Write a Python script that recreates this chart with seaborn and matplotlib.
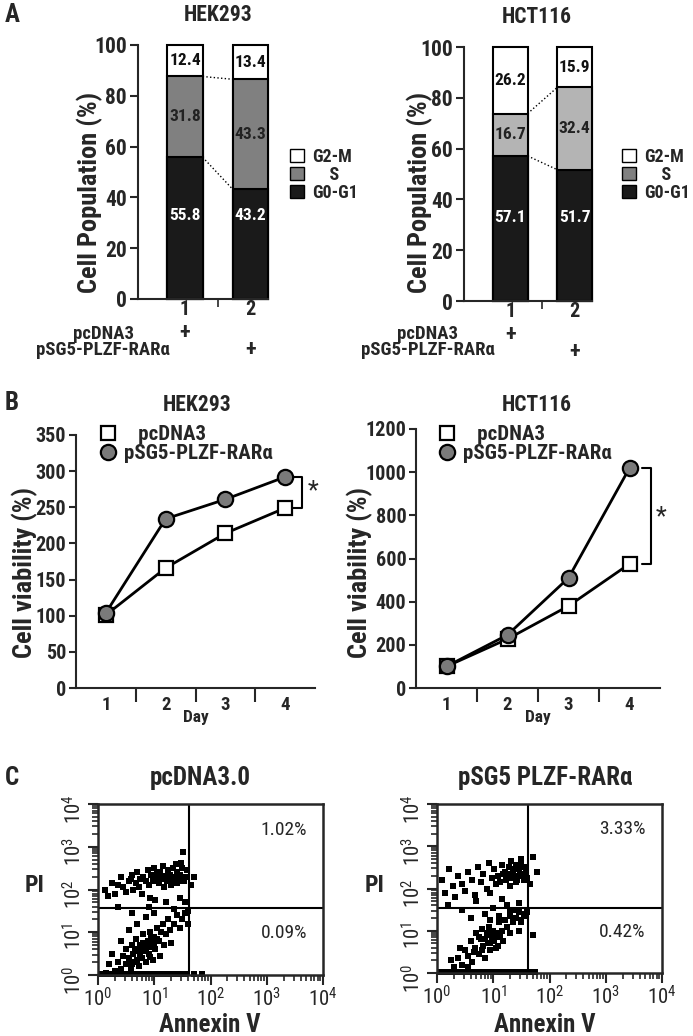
import numpy as np
import pandas as pd
import seaborn as sns
import matplotlib.pyplot as plt
from matplotlib.patches import Patch
from matplotlib.lines import Line2D
from matplotlib.ticker import LogLocator, NullFormatter

# ---- A: cell cycle distribution (%) ----
samples = ['1', '2']
hek_g0g1 = [55.8, 43.2]
hek_s = [31.8, 43.3]
hek_g2m = [12.4, 13.4]
hct_g0g1 = [57.1, 51.7]
hct_s = [16.7, 32.4]
hct_g2m = [26.2, 15.9]

# ---- B: cell viability (%) ----
days = [1, 2, 3, 4]
hek_pcdna3 = [101, 166, 214, 249]
hek_plzf = [104, 234, 261, 292]
hct_pcdna3 = [100, 227, 380, 575]
hct_plzf = [100, 246, 510, 1019]

# ---- C: flow cytometry events, log10(Annexin V) / log10(PI) ----
ctrl_up_x = [0.12, 0.18, 0.25, 0.30, 0.35, 0.40, 0.45, 0.50, 0.55, 0.60, 0.62, 0.68, 0.70, 0.75,
             0.78, 0.80, 0.85, 0.88, 0.90, 0.95, 0.98, 1.00, 1.05, 1.08, 1.10, 1.12, 1.15, 1.20,
             1.22, 1.25, 1.28, 1.30, 1.33, 1.35, 1.38, 1.40, 1.45, 1.50, 1.55, 1.58, 1.30, 1.42,
             0.92, 1.18, 1.02, 1.10, 1.25, 1.35, 1.48, 1.05, 0.72, 0.58, 1.52, 1.40, 1.15, 1.51,
             1.70, 1.65]
ctrl_up_y = [2.00, 1.85, 2.15, 1.90, 2.10, 2.30, 2.05, 1.95, 2.20, 2.35, 2.00, 2.15, 2.40, 2.25,
             1.90, 2.30, 2.20, 2.45, 2.10, 2.35, 2.20, 2.50, 2.30, 2.15, 2.40, 2.25, 2.55, 2.30,
             2.20, 2.45, 2.35, 2.10, 2.50, 2.30, 2.60, 2.40, 2.35, 2.50, 2.30, 2.45, 2.25, 2.20,
             1.80, 2.05, 1.75, 2.28, 2.38, 2.22, 2.62, 2.38, 2.05, 2.25, 2.20, 2.15, 2.32, 2.88,
             2.30, 2.10]
ctrl_mid_x = [0.60, 0.90, 1.20, 1.35, 1.45, 1.55, 1.60, 0.35]
ctrl_mid_y = [1.45, 1.60, 1.70, 1.55, 1.80, 1.70, 1.50, 1.60]
ctrl_low_x = [0.30, 0.35, 0.40, 0.45, 0.50, 0.50, 0.55, 0.58, 0.60, 0.62, 0.65, 0.68, 0.70, 0.72,
              0.75, 0.78, 0.80, 0.82, 0.85, 0.88, 0.90, 0.92, 0.95, 0.98, 1.00, 1.02, 1.05, 1.08,
              1.10, 1.12, 1.15, 1.18, 1.20, 1.25, 1.28, 1.30, 1.35, 1.40, 1.45, 1.50, 1.55, 0.25,
              0.40, 0.55, 0.70, 0.85, 1.00, 0.20, 0.15, 1.60, 0.75, 0.80, 0.90, 0.95, 0.85, 1.00,
              0.70, 0.65, 0.92, 1.05, 0.60, 0.78]
ctrl_low_y = [0.10, 0.30, 0.15, 0.45, 0.25, 0.60, 0.40, 0.15, 0.70, 0.50, 0.30, 0.85, 0.55, 0.20,
              0.70, 0.40, 0.95, 0.60, 0.30, 0.80, 0.50, 1.00, 0.70, 0.35, 0.90, 0.60, 1.10, 0.80,
              0.45, 1.00, 1.20, 0.70, 0.95, 1.30, 1.05, 0.75, 1.20, 1.40, 1.10, 1.30, 1.45, 0.50,
              0.80, 1.05, 1.20, 1.35, 1.45, 0.25, 0.05, 1.20, 0.50, 0.75, 0.65, 0.90, 0.55, 0.75,
              0.35, 0.60, 0.42, 0.85, 0.25, 0.62]
ctrl_floor_x = [0.05, 0.12, 0.20, 0.28, 0.35, 0.42, 0.50, 0.58, 0.65, 0.72, 0.80, 0.88, 0.95,
                1.02, 1.10, 1.18, 1.25, 1.32, 1.40, 1.48, 1.55, 1.70, 1.85]

plzf_up_x = [0.08, 0.15, 0.22, 0.28, 0.32, 0.38, 0.45, 0.50, 0.55, 0.62, 0.68, 0.72, 0.78, 0.82,
             0.88, 0.92, 0.98, 1.02, 1.08, 1.12, 1.15, 1.20, 1.22, 1.25, 1.28, 1.30, 1.32, 1.35,
             1.38, 1.40, 1.42, 1.45, 1.48, 1.50, 1.52, 1.55, 1.58, 1.60, 1.25, 1.35, 1.45, 1.18,
             1.05, 0.95, 1.40, 1.50, 1.30, 1.55, 1.70, 1.78, 1.65]
plzf_up_y = [2.20, 1.90, 2.45, 2.05, 1.80, 2.30, 2.10, 1.95, 2.40, 2.20, 1.85, 2.50, 2.15, 2.35,
             2.00, 2.60, 2.25, 2.45, 2.30, 2.15, 2.55, 2.40, 2.20, 2.35, 2.50, 2.25, 2.65, 2.40,
             2.30, 2.55, 2.20, 2.45, 2.35, 2.60, 2.30, 2.50, 2.40, 2.25, 2.30, 2.45, 2.55, 2.35,
             2.10, 1.90, 2.15, 2.70, 2.05, 2.20, 2.75, 2.40, 2.10]
plzf_mid_x = [0.20, 0.45, 0.70, 0.85, 1.00, 1.15, 1.30, 1.45, 1.55, 0.60, 0.95, 1.25, 1.40, 1.50,
              1.60, 1.10]
plzf_mid_y = [1.60, 1.50, 1.70, 1.40, 1.55, 1.75, 1.45, 1.65, 1.35, 1.30, 1.25, 1.60, 1.50, 1.20,
              1.45, 1.35]
plzf_low_x = [0.30, 0.38, 0.45, 0.50, 0.55, 0.60, 0.62, 0.68, 0.70, 0.75, 0.78, 0.80, 0.82, 0.85,
              0.88, 0.90, 0.92, 0.95, 0.98, 1.00, 1.02, 1.05, 1.08, 1.10, 1.12, 1.15, 1.18, 1.20,
              1.25, 1.30, 1.35, 1.40, 1.45, 1.50, 1.55, 0.85, 0.95, 1.05, 0.75, 0.90, 1.00, 0.65,
              1.10, 0.80, 0.25, 0.40, 0.55, 1.30, 1.45, 1.70]
plzf_low_y = [0.15, 0.35, 0.20, 0.55, 0.40, 0.75, 0.25, 0.60, 0.95, 0.45, 0.80, 1.05, 0.65, 0.35,
              0.90, 0.70, 1.10, 0.55, 0.85, 1.00, 0.75, 0.95, 0.65, 1.20, 0.85, 1.00, 0.75, 1.25,
              1.10, 1.35, 1.20, 1.30, 1.45, 1.25, 1.40, 0.80, 0.70, 0.60, 0.85, 0.95, 0.85, 0.50,
              0.90, 0.55, 0.30, 0.60, 0.15, 0.95, 1.00, 0.90]
plzf_floor_x = [0.05, 0.12, 0.20, 0.28, 0.35, 0.42, 0.50, 0.58, 0.65, 0.72, 0.80, 0.88, 0.95,
                1.02, 1.10, 1.18, 1.25, 1.32, 1.40, 1.48, 1.55, 1.65, 1.75]

ctrl_gate = (1.62, 1.57)
plzf_gate = (1.62, 1.53)
ctrl_pct = ['1.02%', '0.09%']
plzf_pct = ['3.33%', '0.42%']

sns.set_theme(style='ticks')
plt.rcParams['font.family'] = ['Roboto Condensed', 'Liberation Sans', 'DejaVu Sans']
plt.rcParams['font.weight'] = 'bold'
plt.rcParams['axes.labelweight'] = 'bold'
plt.rcParams['axes.linewidth'] = 1.5
plt.rcParams['mathtext.fontset'] = 'custom'
plt.rcParams['mathtext.rm'] = 'Roboto Condensed'

W, H = 693, 1036
fig = plt.figure(figsize=(W / 100, H / 100), dpi=100)


def box(l, t, r, b):
    return [l / W, 1 - b / H, (r - l) / W, (b - t) / H]


def ftext(x, y, s, **kw):
    kw.setdefault('ha', 'center')
    kw.setdefault('va', 'center')
    fig.text(x / W, 1 - y / H, s, **kw)


def cycle_panel(ax, g0, s, g2, s_color):
    mid = [a + b for a, b in zip(g0, s)]
    top = [a + b + c for a, b, c in zip(g0, s, g2)]
    for h, c in [(top, 'white'), (mid, s_color), (g0, '#1a1a1a')]:
        sns.barplot(x=samples, y=h, color=c, saturation=1, width=0.54,
                    edgecolor='black', linewidth=1.5, ax=ax)
    for p in ax.patches:
        p.set_clip_on(False)
    w = 0.27
    ax.plot([w, 1 - w], [g0[0], g0[1]], ls=':', color='black', lw=1)
    ax.plot([w, 1 - w], [mid[0], mid[1]], ls=':', color='black', lw=1)
    for i in range(2):
        ax.text(i, 33, f'{g0[i]}', color='white', ha='center', va='center', fontsize=12.5)
        ax.text(i, g0[i] + s[i] / 2, f'{s[i]}', color='#222222', ha='center', va='center', fontsize=12.5)
        ax.text(i, mid[i] + g2[i] / 2, f'{g2[i]}', color='#111111', ha='center', va='center', fontsize=12.5)
    ax.set_xlim(-0.72, 1.27)
    ax.set_ylim(0, 100)
    ax.set_yticks(range(0, 101, 20))
    ax.set_xticks([0, 1], samples)
    ax.set_xticks([0.5], minor=True)
    ax.tick_params(axis='y', length=6, width=1.5, labelsize=15.5, pad=2)
    ax.tick_params(axis='x', which='major', length=0, labelsize=14.5, pad=1)
    ax.tick_params(axis='x', which='minor', length=6, width=1.2)
    ax.set_xlabel('')
    ax.set_ylabel('')
    sns.despine(ax=ax)
    tr = ax.get_xaxis_transform()
    ax.text(0, -0.135, '+', transform=tr, ha='center', va='center', fontsize=16)
    ax.text(1, -0.2, '+', transform=tr, ha='center', va='center', fontsize=16)


ax1 = fig.add_axes(box(138, 45, 268, 299))
cycle_panel(ax1, hek_g0g1, hek_s, hek_g2m, '#808080')
ax2 = fig.add_axes(box(464, 47, 592, 301))
cycle_panel(ax2, hct_g0g1, hct_s, hct_g2m, '#b4b4b4')

leg_handles = [Patch(facecolor='white', edgecolor='black', lw=1),
               Patch(facecolor='#808080', edgecolor='black', lw=1),
               Patch(facecolor='#1a1a1a', edgecolor='black', lw=1)]
leg_labels = ['G2-M', '    S', 'G0-G1']
for ax, lx in [(ax1, 290), (ax2, 622)]:
    ax.legend(leg_handles, leg_labels, loc='upper left', bbox_to_anchor=(lx / W, 1 - 148 / H),
              bbox_transform=fig.transFigure, frameon=False, fontsize=13,
              handlelength=0.75, handleheight=0.75, handletextpad=0.5, labelspacing=0.0,
              borderpad=0, borderaxespad=0)

ftext(12, 15, 'A', fontsize=18)
ftext(218, 15, 'HEK293', fontsize=15.5)
ftext(537, 17, 'HCT116', fontsize=15.5)
ftext(90, 192, 'Cell Population (%)', rotation=90, fontsize=19)
ftext(420, 192, 'Cell Population (%)', rotation=90, fontsize=19)
for cx in [103, 428]:
    ftext(cx, 334, 'pcDNA3', fontsize=13.5)
    ftext(cx, 350, 'pSG5-PLZF-RARα', fontsize=13.5)


def growth_panel(ax, pc, pl, ymax, step, bracket_x, star_x, star_y):
    df_pc = pd.DataFrame({'day': days, 'viability': pc})
    df_pl = pd.DataFrame({'day': days, 'viability': pl})
    sns.lineplot(data=df_pc, x='day', y='viability', color='black', lw=2, marker='s',
                 markersize=10, markerfacecolor='white', markeredgecolor='black',
                 markeredgewidth=1.6, ax=ax, clip_on=False)
    sns.lineplot(data=df_pl, x='day', y='viability', color='black', lw=2, marker='o',
                 markersize=11, markerfacecolor='#7a7a7a', markeredgecolor='black',
                 markeredgewidth=1.6, ax=ax, clip_on=False)
    ax.plot([bracket_x[0], bracket_x[1], bracket_x[1], bracket_x[0]],
            [pl[-1], pl[-1], pc[-1], pc[-1]], color='black', lw=1.5, clip_on=False)
    ax.text(star_x, star_y, '*', ha='center', va='center', fontsize=18, fontweight='normal')
    ax.set_xlim(0.5, 4.5)
    ax.set_ylim(0, ymax)
    ax.set_yticks(range(0, ymax + 1, step))
    ax.set_xticks(days, [str(d) for d in days])
    ax.set_xticks([1.5, 2.5, 3.5], minor=True)
    ax.tick_params(axis='y', length=5, width=1.5, labelsize=14.5, pad=2)
    ax.tick_params(axis='x', which='major', length=0, labelsize=13.5, pad=6)
    ax.tick_params(axis='x', which='minor', length=10, width=1.5)
    ax.set_xlabel('Day', fontsize=12.5, labelpad=-3)
    ax.set_ylabel('')
    sns.despine(ax=ax)


ax3 = fig.add_axes(box(76, 435, 315, 688))
growth_panel(ax3, hek_pcdna3, hek_plzf, 350, 50, (4.13, 4.28), 4.47, 272)
ax4 = fig.add_axes(box(416, 429, 660, 688))
growth_panel(ax4, hct_pcdna3, hct_plzf, 1200, 200, (4.21, 4.36), 4.52, 790)

line_handles = [Line2D([], [], ls='none', marker='s', markersize=10, markerfacecolor='white',
                       markeredgecolor='black', markeredgewidth=1.6),
                Line2D([], [], ls='none', marker='o', markersize=11, markerfacecolor='#7a7a7a',
                       markeredgecolor='black', markeredgewidth=1.6)]
line_labels = ['   pcDNA3', 'pSG5-PLZF-RARα']
for ax, lx in [(ax3, 98), (ax4, 437)]:
    ax.legend(line_handles, line_labels, loc='upper left', bbox_to_anchor=(lx / W, 1 - 425 / H),
              bbox_transform=fig.transFigure, frameon=False, fontsize=15,
              handlelength=1.0, handletextpad=0.25, labelspacing=0.0, borderpad=0,
              borderaxespad=0)

ftext(12, 403, 'B', fontsize=18)
ftext(197, 405, 'HEK293', fontsize=15.5)
ftext(537, 405, 'HCT116', fontsize=15.5)
ftext(25, 572, 'Cell viability (%)', rotation=90, fontsize=19)
ftext(360, 572, 'Cell viability (%)', rotation=90, fontsize=19)


def facs_panel(ax, xs, ys, gate, pct):
    sns.scatterplot(x=np.power(10.0, xs), y=np.power(10.0, ys), s=15, color='black',
                    marker='s', linewidth=0, ax=ax, clip_on=False)
    ax.set_xscale('log')
    ax.set_yscale('log')
    ax.set_xlim(1, 1e4)
    ax.set_ylim(1, 1e4)
    for axis in [ax.xaxis, ax.yaxis]:
        axis.set_major_locator(LogLocator(base=10, numticks=10))
        axis.set_minor_locator(LogLocator(base=10, subs=np.arange(2, 10), numticks=10))
        axis.set_minor_formatter(NullFormatter())
    ax.axvline(10 ** gate[0], color='black', lw=1.5)
    ax.axhline(10 ** gate[1], color='black', lw=1.5)
    ax.text(0.825, 0.85, pct[0], transform=ax.transAxes, ha='center', va='center',
            fontsize=14, fontweight='normal')
    ax.text(0.825, 0.245, pct[1], transform=ax.transAxes, ha='center', va='center',
            fontsize=14, fontweight='normal')
    ax.tick_params(which='major', length=7, width=1.5, labelsize=15, pad=2)
    ax.tick_params(which='minor', length=4, width=1.2)
    ax.tick_params(axis='y', labelrotation=90)
    for lab in ax.get_xticklabels() + ax.get_yticklabels():
        lab.set_fontweight('normal')
    for sp in ax.spines.values():
        sp.set_linewidth(1.8)


ax5 = fig.add_axes(box(98, 804, 323, 975))
facs_panel(ax5, ctrl_up_x + ctrl_mid_x + ctrl_low_x + ctrl_floor_x,
           ctrl_up_y + ctrl_mid_y + ctrl_low_y + [0.02] * len(ctrl_floor_x), ctrl_gate, ctrl_pct)
ax6 = fig.add_axes(box(437, 804, 662, 973))
facs_panel(ax6, plzf_up_x + plzf_mid_x + plzf_low_x + plzf_floor_x,
           plzf_up_y + plzf_mid_y + plzf_low_y + [0.02] * len(plzf_floor_x), plzf_gate, plzf_pct)

ftext(12, 778, 'C', fontsize=18)
ftext(200, 778, 'pcDNA3.0', fontsize=18)
ftext(545, 778, 'pSG5 PLZF-RARα', fontsize=18)
ftext(35, 885, 'PI', fontsize=17)
ftext(375, 885, 'PI', fontsize=17)
ftext(210, 1025, 'Annexin V', fontsize=18)
ftext(545, 1025, 'Annexin V', fontsize=18)

fig.savefig('out.png', dpi=100)
